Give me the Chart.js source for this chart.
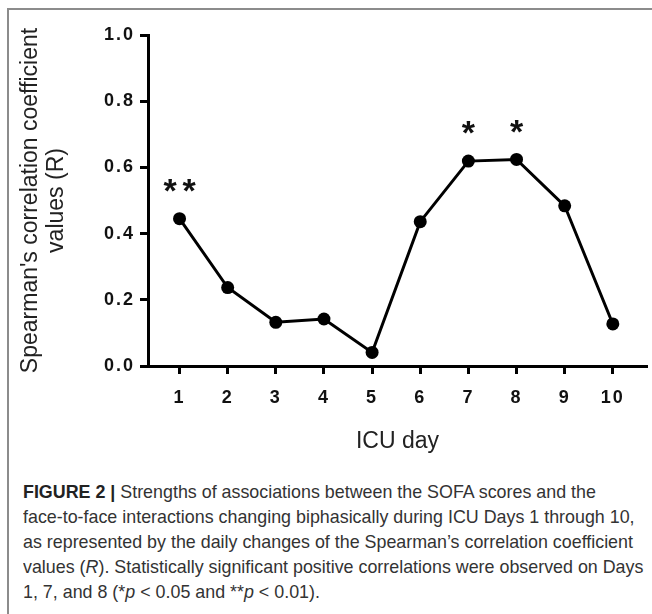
<!DOCTYPE html>
<html>
<head>
<meta charset="utf-8">
<script src="https://cdn.jsdelivr.net/npm/chart.js@4/dist/chart.umd.min.js"></script>
<style>
  html, body { margin: 0; padding: 0; background: #fff; }
  body { width: 652px; height: 614px; position: relative; overflow: hidden; }
  #frame {
    position: absolute; left: 7px; top: 8px; width: 700px; height: 700px;
    border-left: 2px solid #8c8c8c; border-top: 2px solid #8c8c8c;
  }
  #plot { position: absolute; left: 0; top: 0; }
  #caption {
    position: absolute; left: 23px; top: 479px; width: 700px;
    font-family: "Liberation Sans", Arial, sans-serif;
    font-size: 19px; line-height: 25px; color: #333; white-space: nowrap;
    transform: scaleX(0.94); transform-origin: 0 0;
  }
  #caption b { font-weight: bold; color: #222; }
</style>
</head>
<body>
<div id="frame"></div>
<canvas id="plot" width="652" height="468"></canvas>
<div id="caption">
  <b>FIGURE 2 |</b> Strengths of associations between the SOFA scores and the<br>
  face-to-face interactions changing biphasically during ICU Days 1 through 10,<br>
  as represented by the daily changes of the Spearman’s correlation coefficient<br>
  values (<i>R</i>). Statistically significant positive correlations were observed on Days<br>
  1, 7, and 8 (*<i>p</i> &lt; 0.05 and **<i>p</i> &lt; 0.01).
</div>
<script>
// ICU days and the daily Spearman's R values
const icuDays = [1, 2, 3, 4, 5, 6, 7, 8, 9, 10];
const spearmanR = [0.445, 0.237, 0.132, 0.142, 0.041, 0.436, 0.619, 0.624, 0.484, 0.127];
// significance markers per day (** p < 0.01, * p < 0.05)
const sigMarks = ['**', '', '', '', '', '', '*', '*', '', ''];
const yTickValues = [0, 0.2, 0.4, 0.6, 0.8, 1.0];

const AXIS_LEFT = 148;     // y-axis line position
const PLOT_TOP = 35;
const PLOT_BOTTOM = 366;

// bold tick labels are drawn slightly spaced out
const spacedTickLabels = {
  id: 'spacedTickLabels',
  beforeDraw(chart) {
    Object.values(chart.scales).forEach(s => {
      if (s.__spaced) return;
      const orig = s.drawLabels.bind(s);
      s.drawLabels = (area) => {
        const c = s.ctx;
        const prev = c.letterSpacing;
        c.letterSpacing = '2px';
        orig(area);
        c.letterSpacing = prev || '0px';
      };
      s.__spaced = true;
    });
  }
};

// asterisks above the significant days
const significanceMarks = {
  id: 'significanceMarks',
  afterDatasetsDraw(chart) {
    const meta = chart.getDatasetMeta(0);
    const ctx = chart.ctx;
    ctx.save();
    ctx.fillStyle = '#111';
    ctx.font = 'bold 34px "Liberation Sans", Arial, sans-serif';
    ctx.textAlign = 'center';
    ctx.textBaseline = 'middle';
    sigMarks.forEach((mark, i) => {
      if (!mark) return;
      const pt = meta.data[i];
      const chars = mark.split('');
      chars.forEach((ch, k) => {
        const dx = (k - (chars.length - 1) / 2) * 19;
        ctx.fillText(ch, pt.x + dx, pt.y - 26);
      });
    });
    ctx.restore();
  }
};

new Chart(document.getElementById('plot'), {
  type: 'line',
  data: {
    datasets: [{
      data: icuDays.map((d, i) => ({ x: d, y: spearmanR[i] })),
      borderColor: '#000',
      backgroundColor: '#000',
      borderWidth: 3,
      pointRadius: 6.5,
      pointBackgroundColor: '#000',
      pointBorderColor: '#000',
      pointBorderWidth: 0,
      tension: 0,
      clip: false
    }]
  },
  options: {
    responsive: false,
    animation: false,
    devicePixelRatio: 1,
    layout: { autoPadding: false, padding: { left: 0, top: PLOT_TOP, right: 5, bottom: 0 } },
    plugins: { legend: { display: false }, tooltip: { enabled: false }, title: { display: false } },
    scales: {
      x: {
        type: 'linear',
        min: 0.345,
        max: 10.71,
        afterFit(scale) { scale.height = 468 - PLOT_BOTTOM; },
        afterBuildTicks(scale) { scale.ticks = icuDays.map(v => ({ value: v })); },
        grid: { display: true, drawOnChartArea: false, drawTicks: true, tickLength: 8, tickWidth: 3, tickColor: '#000' },
        border: { display: true, width: 3, color: '#000' },
        ticks: {
          color: '#111', padding: 13, autoSkip: false, maxRotation: 0,
          font: { family: '"Liberation Sans", Arial, sans-serif', size: 18, weight: 'bold' },
          callback: v => String(v)
        },
        title: {
          display: true, text: 'ICU day', color: '#222',
          font: { family: '"Liberation Sans", Arial, sans-serif', size: 23, weight: 'normal', lineHeight: 1.13 },
          padding: { top: 0, bottom: 13 }
        }
      },
      y: {
        type: 'linear',
        min: 0,
        max: 1,
        afterFit(scale) { scale.width = AXIS_LEFT; },
        afterBuildTicks(scale) { scale.ticks = yTickValues.map(v => ({ value: v })); },
        grid: { display: true, drawOnChartArea: false, drawTicks: true, tickLength: 8, tickWidth: 3, tickColor: '#000' },
        border: { display: true, width: 3, color: '#000' },
        ticks: {
          color: '#111', padding: 5,
          font: { family: '"Liberation Sans", Arial, sans-serif', size: 18, weight: 'bold' },
          callback: v => Number(v).toFixed(1)
        },
        title: {
          display: true, text: ["Spearman's correlation coefficient", 'values (R)'], color: '#222',
          font: { family: '"Liberation Sans", Arial, sans-serif', size: 23, weight: 'normal', lineHeight: 1.13 },
          padding: { top: 18, bottom: 0 }
        }
      }
    }
  },
  plugins: [spacedTickLabels, significanceMarks]
});
</script>
</body>
</html>
